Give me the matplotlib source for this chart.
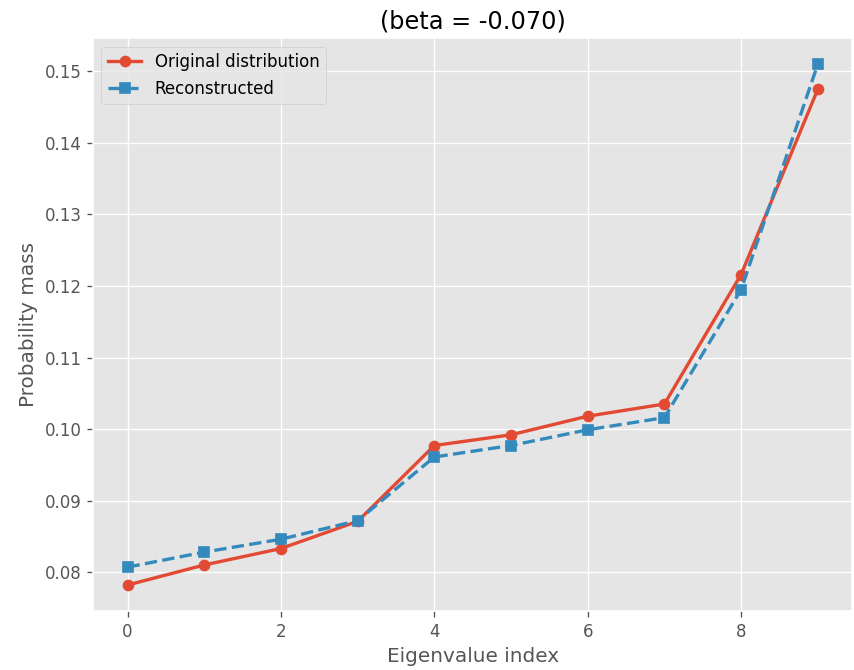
import matplotlib
matplotlib.use("Agg")
import matplotlib.pyplot as plt

plt.style.use("ggplot")

indices = list(range(10))
original = [0.0782, 0.0810, 0.0833, 0.0871, 0.0977, 0.0992, 0.1018, 0.1035, 0.1216, 0.1475]
reconstructed = [0.0807, 0.0828, 0.0846, 0.0872, 0.0961, 0.0977, 0.0999, 0.1016, 0.1195, 0.1510]

DPI = 120
fig, ax = plt.subplots(figsize=(854 / DPI, 670 / DPI), dpi=DPI)
ax.plot(indices, original, "o-", lw=2, ms=6, color="#E24A33", label="Original distribution")
ax.plot(indices, reconstructed, "s--", lw=2, ms=6, color="#348ABD", label="Reconstructed")
ax.set_title("(beta = -0.070)")
ax.set_xlabel("Eigenvalue index")
ax.set_ylabel("Probability mass")
ax.legend(loc="upper left")
fig.subplots_adjust(left=0.109, right=0.998, top=0.943, bottom=0.088)
fig.savefig("out.png", dpi=DPI)
